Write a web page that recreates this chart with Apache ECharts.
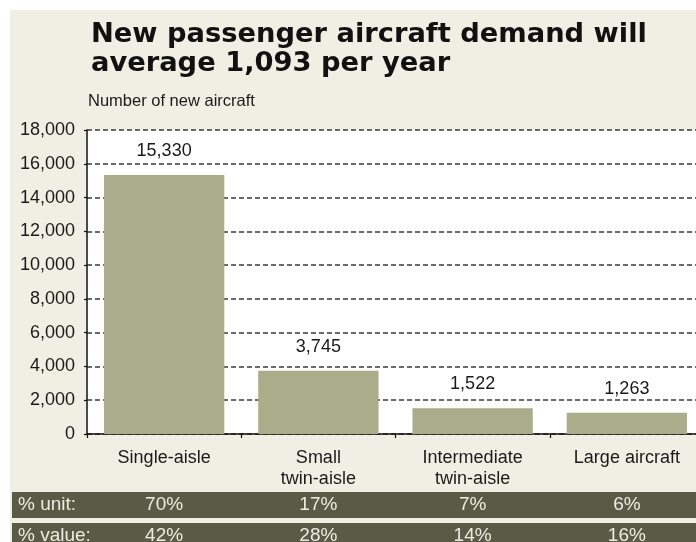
<!DOCTYPE html>
<html>
<head>
<meta charset="utf-8">
<script src="https://cdn.jsdelivr.net/npm/echarts@6/dist/echarts.min.js"></script>
<style>
  html, body { margin: 0; padding: 0; background: #ffffff; overflow: hidden; }
  /* the plot runs slightly past the right edge of the window */
  #chart { width: 710px; height: 542px; }
</style>
</head>
<body>
<div id="chart"></div>
<script>
// Aircraft segments and forecast deliveries
const categories = ['Single-aisle', 'Small\ntwin-aisle', 'Intermediate\ntwin-aisle', 'Large aircraft'];
const deliveries = [15330, 3745, 1522, 1263];
const unitShare = ['70%', '17%', '7%', '6%'];
const valueShare = ['42%', '28%', '14%', '16%'];
const yTicks = [0, 2000, 4000, 6000, 8000, 10000, 12000, 14000, 16000, 18000];

const BG = '#eff0e3';
const BAR = '#a9ad89';
const BAND = '#5a5b47';
const BAND_TEXT = '#ecece0';
const FONT = '"Liberation Sans", Arial, sans-serif';

const chart = echarts.init(document.getElementById('chart'), null, { renderer: 'canvas' });

const fmt = v => v.toLocaleString('en-US');

const option = {
  animation: false,
  backgroundColor: '#ffffff',
  title: {
    text: 'New passenger aircraft demand will\naverage 1,093 per year',
    left: 86,
    top: 15,
    textStyle: {
      fontFamily: '"DejaVu Sans", sans-serif',
      fontWeight: 'bold',
      fontSize: 27.3,
      lineHeight: 29,
      color: '#111111'
    }
  },
  grid: {
    left: 87,
    right: 6,
    top: 130,
    bottom: 108,
    show: true,
    backgroundColor: '#ffffff',
    borderWidth: 0,
    containLabel: false
  },
  xAxis: {
    type: 'category',
    data: categories,
    axisLine: { lineStyle: { color: '#111111', width: 1.5 } },
    axisTick: { show: true, inside: false, length: 4, lineStyle: { color: '#111111', width: 1.2 } },
    axisLabel: {
      fontFamily: FONT,
      fontSize: 18,
      lineHeight: 21,
      color: '#1a1a1a',
      margin: 14,
      verticalAlign: 'top'
    }
  },
  yAxis: {
    type: 'value',
    min: 0,
    max: 18000,
    interval: 2000,
    axisLine: { show: true, lineStyle: { color: '#111111', width: 1.5 } },
    axisTick: { show: true, length: 3, lineStyle: { color: '#111111', width: 1.2 } },
    axisLabel: {
      fontFamily: FONT,
      fontSize: 18,
      color: '#1a1a1a',
      margin: 12,
      formatter: v => (yTicks.includes(v) ? fmt(v) : '')
    },
    splitLine: {
      show: true,
      lineStyle: { color: '#3a3a3a', width: 1.5, type: [5, 3] }
    }
  },
  series: [{
    type: 'bar',
    data: deliveries,
    barCategoryGap: '22%',
    itemStyle: { color: BAR },
    label: {
      show: true,
      position: 'top',
      distance: 15,
      fontFamily: FONT,
      fontSize: 18,
      color: '#1a1a1a',
      formatter: p => fmt(p.value)
    },
    z: 3
  }]
};

chart.setOption(option);

// Frame, subtitle and the share table underneath the plot
function drawExtras() {
  const xs = categories.map((c, i) => chart.convertToPixel({ xAxisIndex: 0 }, i));
  const rows = [
    { label: '% unit:', values: unitShare, top: 492, h: 26 },
    { label: '% value:', values: valueShare, top: 523, h: 26 }
  ];
  const elements = [
    { type: 'rect', shape: { x: 10, y: 10, width: 720, height: 540 }, style: { fill: BG }, z: -10, silent: true },
    {
      type: 'text', left: 88, top: 93, z: 10,
      style: { text: 'Number of new aircraft', font: '16.5px ' + FONT, fill: '#1a1a1a' }
    }
  ];
  rows.forEach(r => {
    elements.push({
      type: 'rect', shape: { x: 12, y: r.top, width: 720, height: r.h },
      style: { fill: BAND }, z: 5, silent: true
    });
    elements.push({
      type: 'text', x: 18, y: r.top + r.h / 2, z: 6,
      style: { text: r.label, font: '19px ' + FONT, fill: BAND_TEXT, textVerticalAlign: 'middle' }
    });
    r.values.forEach((v, i) => {
      elements.push({
        type: 'text', x: xs[i], y: r.top + r.h / 2, z: 6,
        style: { text: v, font: '19px ' + FONT, fill: BAND_TEXT, textAlign: 'center', textVerticalAlign: 'middle' }
      });
    });
  });
  chart.setOption({ graphic: { elements } });
}
drawExtras();
</script>
</body>
</html>
